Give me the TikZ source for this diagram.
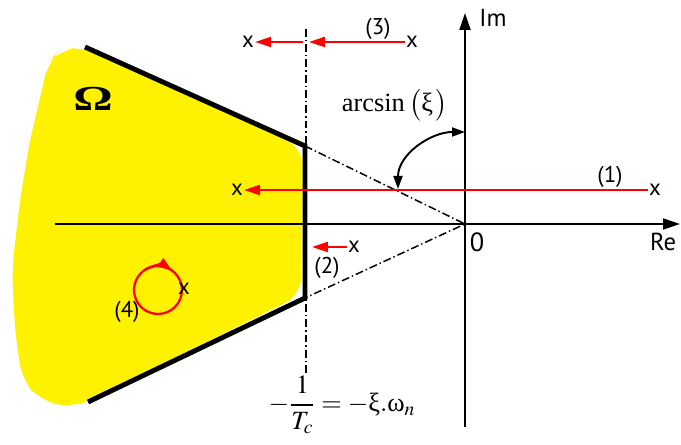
\documentclass[tikz,border=0pt]{standalone}
\usepackage{mathptmx}
\usepackage[no-math]{fontspec}
\setmainfont{Liberation Serif}
\newfontfamily\labelfont{PT Sans}
\usetikzlibrary{arrows.meta}

\begin{document}
\begin{tikzpicture}[x=0.02cm, y=0.02cm,
    axisline/.style={line width=1.1pt, -{Triangle[length=3.4mm,width=2.2mm]}},
    boundary/.style={line width=2.8pt},
    guide/.style={line width=0.85pt, dash pattern=on 4.5pt off 1.7pt on 0.8pt off 1.7pt},
    polepath/.style={red, line width=1.3pt, -{Triangle[length=3.2mm,width=2mm]}},
    pole/.style={font=\labelfont\fontsize{13}{15}\selectfont, inner sep=0.5pt},
    tag/.style={font=\labelfont\fontsize{13}{15}\selectfont, inner sep=1pt},
    serif/.style={font=\fontsize{15}{18}\selectfont, inner sep=1pt},
  ]
  \useasboundingbox (0,0) rectangle (681,445);

  % stable region
  \fill[yellow, rounded corners=10pt] (60,395) -- (85,398) -- (303,297)
    -- (301,150) -- (88,44) -- (70,37) -- (40,45) -- (22,65)
    -- (15,115) -- (12,175) -- (20,245) -- (30,305) -- (42,355) -- (48,383) -- cycle;

  % axes
  \coordinate (reL) at (55,221);
  \coordinate (reR) at (680,221);
  \coordinate (imB) at (465,18);
  \coordinate (imT) at (465,432);
  \coordinate (O) at (465,221);
  \draw[axisline] (reL) -- (reR);
  \draw[axisline] (imB) -- (imT);
  \node[tag, font=\labelfont\fontsize{14}{16}\selectfont] (re) at (663,203) {Re};
  \node[tag, font=\labelfont\fontsize{14}{16}\selectfont] (im) at (493,427) {Im};
  \node[tag, font=\labelfont\fontsize{15}{17}\selectfont] (zero) at (477,203) {0};

  % boundary of the region
  \coordinate (A) at (305,299);
  \coordinate (B) at (305,147);
  \coordinate (Aout) at (85,398);
  \coordinate (Bout) at (88,43);
  \coordinate (vtop) at (306,418);
  \coordinate (vbot) at (306,72);
  \draw[guide] (vbot) -- (vtop);
  \draw[guide] (A) -- (O) -- (B);
  \draw[boundary] (Aout) -- (A) -- (B) -- (Bout);
  \node[serif, font=\bfseries\fontsize{20}{22}\selectfont, xscale=1.4] (omega) at (93,346) {Ω};

  % (1)
  \node[pole] (p1s) at (655,255) {x};
  \node[pole] (p1e) at (237,255) {x};
  \draw[polepath] (p1s.west) -- (p1e.east);
  \node[tag] (t1) at (610,268) {(1)};

  % (3)
  \node[pole] (p3s) at (412,403) {x};
  \node[pole] (p3e) at (248,403) {x};
  \coordinate (p3a) at (309,403);
  \coordinate (p3b) at (303,403);
  \draw[polepath] (p3s.west) -- (p3a);
  \draw[polepath] (p3b) -- (p3e.east);
  \node[tag] (t3) at (378,416) {(3)};

  % (2)
  \node[pole] (p2s) at (354,198) {x};
  \coordinate (p2e) at (312,198);
  \draw[polepath] (p2s.west) -- (p2e);
  \node[tag] (t2) at (327,177) {(2)};

  % (4)
  \coordinate (c4) at (158,155);
  \draw[red, line width=1.3pt] (c4) circle[radius=0.48cm];
  \draw[red, line width=1.3pt, -{Triangle[length=2.8mm,width=2mm]}]
    ([shift={(125:0.48cm)}]c4) arc[start angle=125, end angle=55, radius=0.48cm];
  \node[pole] (p4) at (184,156) {x};
  \node[tag] (t4) at (127,133) {(4)};

  % angle
  \coordinate (ang1) at (398,256);
  \coordinate (ang2) at (465,313);
  \draw[line width=1.1pt, {Triangle[length=2.6mm,width=1.8mm]}-{Triangle[length=2.6mm,width=1.8mm]}]
    (ang1) to[out=90, in=180] (ang2);
  \node[serif] (arcs) at (395,340) {arcsin\,$\bigl(\mbox{ξ}\,\bigr)$};

  % abscissa of the boundary
  \node[serif] (tc) at (342,40) {$\displaystyle -\frac{1}{T_c} = -\mbox{ξ}.\mbox{ω}_n$};
\end{tikzpicture}
\end{document}
